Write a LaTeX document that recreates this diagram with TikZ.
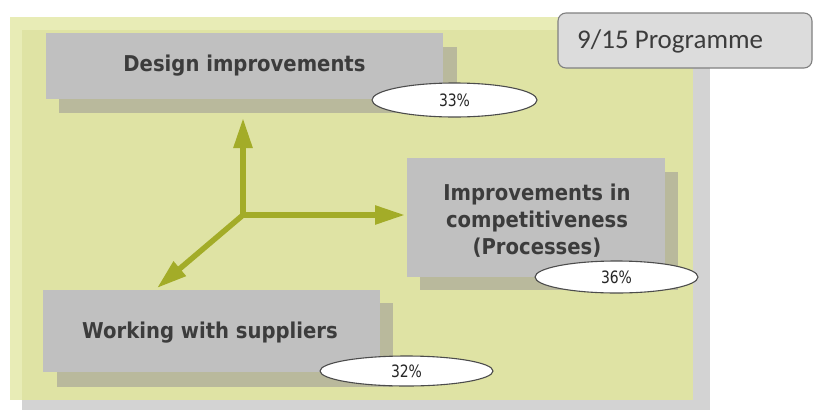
\documentclass[tikz,border=0pt]{standalone}
\usepackage{fontspec}
\usetikzlibrary{arrows.meta}
\newfontfamily\boxfont{DejaVu Sans}[FakeStretch=0.9]
\newfontfamily\pctfont{DejaVu Sans}[FakeStretch=0.82]
\newfontfamily\progfont{Carlito}
\definecolor{rimgreen}{HTML}{E8ECB6}
\definecolor{panelgreen}{HTML}{DFE3A4}
\definecolor{panelshadow}{HTML}{D3D3D3}
\definecolor{boxgray}{HTML}{C0C0C0}
\definecolor{boxshadow}{HTML}{B9B99C}
\definecolor{arrowgreen}{HTML}{A3AC28}
\definecolor{txtgray}{HTML}{3C3C3C}
\definecolor{proggray}{HTML}{DCDCDC}
\tikzset{
  mainbox/.style={fill=boxgray, draw=none, inner sep=0pt, text=txtgray,
    font=\boxfont\bfseries\fontsize{21.8}{27}\selectfont, align=center},
  shadowbox/.style={fill=boxshadow, draw=none},
  pct/.style={ellipse, draw=black!70, line width=1.1pt, fill=white, inner sep=0pt,
    font=\pctfont\fontsize{17}{20}\selectfont, text=black!85},
  axis/.style={draw=arrowgreen, line width=5.5pt, -{Triangle[length=30pt,width=18pt]}},
}
\usetikzlibrary{shapes.geometric}
\begin{document}
\begin{tikzpicture}[x=1pt,y=-1pt]
\useasboundingbox (0,0) rectangle (824,410);
% panel
\fill[panelshadow] (22,30) rectangle (710,410);
\fill[rimgreen] (10,17) rectangle (693,400);
\fill[panelgreen] (22,30) rectangle (693,400);
% shadows
\fill[shadowbox] (59,47) rectangle (457,113);
\fill[shadowbox] (420,172) rectangle (678,290);
\fill[shadowbox] (57,303) rectangle (393,387);
% boxes
\node[mainbox, minimum width=397pt, minimum height=66pt] (design) at (244.5,66) {Design improvements};
\node[mainbox, minimum width=258pt, minimum height=119pt] (impr) at (536,217.5) {};
\node[align=center, inner sep=0pt, text=txtgray, font=\boxfont\bfseries\fontsize{21.8}{27}\selectfont] (imprtxt) at (537,221) {Improvements in\\competitiveness\\(Processes)};
\node[mainbox, minimum width=337pt, minimum height=82pt] (work) at (211.5,331) {};
\node[inner sep=0pt, text=txtgray, font=\boxfont\bfseries\fontsize{21.8}{27}\selectfont] (worktxt) at (210,333) {Working with suppliers};
% percentages
\node[pct, minimum width=165pt, minimum height=34pt] (p33) at (454.5,100) {33\%};
\node[pct, minimum width=163pt, minimum height=32pt] (p36) at (616.5,277) {36\%};
\node[pct, minimum width=173pt, minimum height=30pt] (p32) at (406.5,371) {32\%};
% programme label
\node[draw=black!50, line width=1.1pt, fill=proggray, rounded corners=8pt,
  minimum width=254pt, minimum height=55pt, inner sep=0pt] (prog) at (685,40.5) {};
\node[anchor=west, inner sep=0pt, text=txtgray, font=\progfont\fontsize{27}{32}\selectfont] (progtxt) at (577,41) {9/15 Programme};
% axes
\coordinate (o) at (243,215);
\coordinate (tu) at (243,118);
\coordinate (tr) at (405,215);
\coordinate (td) at (157,288);
\draw[axis] (o) -- (tu);
\draw[axis] (o) -- (tr);
\draw[axis] (o) -- (td);
\end{tikzpicture}
\end{document}
